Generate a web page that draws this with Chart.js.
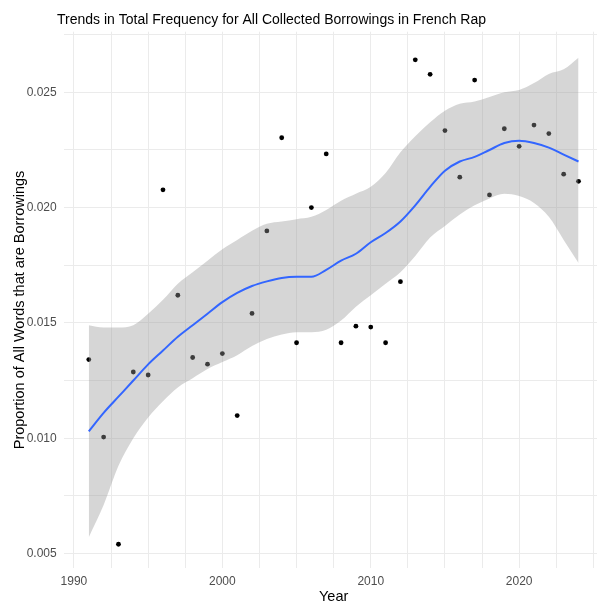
<!DOCTYPE html>
<html>
<head>
<meta charset="utf-8">
<script src="https://cdn.jsdelivr.net/npm/chart.js@4.4.0/dist/chart.umd.min.js"></script>
<style>
html,body{margin:0;padding:0;background:#fff;overflow:hidden}
#wrap{width:597px;height:606px;overflow:hidden;position:relative}
canvas{display:block}
</style>
</head>
<body>
<div id="wrap"><canvas id="c" width="607" height="606" style="width:607px;height:606px"></canvas></div>
<script>
// ---- data ----
const years = [1991,1992,1993,1994,1995,1996,1997,1998,1999,2000,2001,2002,2003,2004,2005,2006,2007,2008,2009,2010,2011,2012,2013,2014,2015,2016,2017,2018,2019,2020,2021,2022,2023,2024];
const proportions = [0.01341,0.01005,0.00540,0.01287,0.01274,0.02077,0.01620,0.01350,0.01321,0.01367,0.01098,0.01541,0.01899,0.02303,0.01414,0.02000,0.02233,0.01414,0.01486,0.01482,0.01414,0.01679,0.02641,0.02578,0.02334,0.02132,0.02553,0.02055,0.02342,0.02266,0.02358,0.02321,0.02145,0.02114];

const smoothYears = years;
const smoothFit   = [0.01030,0.01110,0.01180,0.01250,0.01320,0.01380,0.01440,0.01490,0.01540,0.01590,0.01630,0.01660,0.01680,0.01695,0.01700,0.01700,0.01730,0.01770,0.01800,0.01850,0.01890,0.01940,0.02010,0.02090,0.02160,0.02200,0.02220,0.02250,0.02280,0.02290,0.02280,0.02260,0.02230,0.02200];
const smoothLower = [0.00570,0.00710,0.00880,0.01000,0.01090,0.01160,0.01220,0.01260,0.01300,0.01330,0.01360,0.01400,0.01430,0.01450,0.01460,0.01460,0.01470,0.01510,0.01570,0.01620,0.01670,0.01720,0.01790,0.01870,0.01920,0.01970,0.02010,0.02040,0.02060,0.02050,0.02020,0.01960,0.01860,0.01760];
const smoothUpper = [0.01490,0.01480,0.01480,0.01490,0.01540,0.01600,0.01670,0.01720,0.01770,0.01820,0.01860,0.01900,0.01930,0.01940,0.01950,0.01960,0.01990,0.02030,0.02060,0.02090,0.02150,0.02240,0.02310,0.02370,0.02420,0.02450,0.02460,0.02480,0.02500,0.02510,0.02540,0.02580,0.02600,0.02650];

const xTickValues = [1990,1992.5,1995,1997.5,2000,2002.5,2005,2007.5,2010,2012.5,2015,2017.5,2020,2022.5,2025];
const xTickLabels = [1990,2000,2010,2020];
const yTickValues = [0.005,0.0075,0.01,0.0125,0.015,0.0175,0.02,0.0225,0.025,0.0275];
const yTickLabels = [0.005,0.010,0.015,0.020,0.025];

const titleText = "Trends in Total Frequency for All Collected Borrowings in French Rap";
const xTitle = "Year";
const yTitle = "Proportion of All Words that are Borrowings";

const FONT = '"Liberation Sans", Arial, Helvetica, sans-serif';

const pts = (xs, ys) => xs.map((x, i) => ({x: x, y: ys[i]}));
const isIn = (arr, v) => arr.some(a => Math.abs(a - v) < 1e-9);

const titlesPlugin = {
  id: 'titles',
  afterDraw(chart) {
    const ctx = chart.ctx;
    const ca = chart.chartArea;
    ctx.save();
    ctx.fillStyle = '#000';
    ctx.font = '14px ' + FONT;
    ctx.textAlign = 'left';
    ctx.textBaseline = 'alphabetic';
    ctx.fillText(titleText, 57, 24);
    ctx.font = '14.5px ' + FONT;
    ctx.textAlign = 'center';
    ctx.fillText(xTitle, (ca.left + ca.right) / 2, 601);
    ctx.translate(24, 310);
    ctx.rotate(-Math.PI / 2);
    ctx.fillText(yTitle, 0, 0);
    ctx.restore();
  }
};

new Chart(document.getElementById('c'), {
  data: {
    datasets: [
      {
        type: 'line',
        data: pts(smoothYears, smoothFit),
        borderColor: '#3366FF',
        borderWidth: 2,
        pointRadius: 0,
        fill: false,
        cubicInterpolationMode: 'monotone',
        order: 0
      },
      {
        type: 'line',
        data: pts(smoothYears, smoothLower),
        borderWidth: 0,
        borderColor: 'rgba(0,0,0,0)',
        pointRadius: 0,
        fill: false,
        cubicInterpolationMode: 'monotone',
        order: 1
      },
      {
        type: 'line',
        data: pts(smoothYears, smoothUpper),
        borderWidth: 0,
        borderColor: 'rgba(0,0,0,0)',
        backgroundColor: 'rgba(153,153,153,0.4)',
        pointRadius: 0,
        fill: {target: 1},
        cubicInterpolationMode: 'monotone',
        order: 1
      },
      {
        type: 'scatter',
        data: pts(years, proportions),
        backgroundColor: '#000',
        borderWidth: 0,
        pointRadius: 2.4,
        order: 2
      }
    ]
  },
  options: {
    responsive: false,
    animation: false,
    events: [],
    layout: {padding: {top: 31.7, left: 0, right: 1, bottom: 0}},
    plugins: {legend: {display: false}, tooltip: {enabled: false}, title: {display: false}},
    scales: {
      x: {
        type: 'linear',
        min: 1989.35,
        max: 2025.65,
        afterBuildTicks(scale) { scale.ticks = xTickValues.map(v => ({value: v})); },
        afterFit(scale) { scale.height = 38; },
        grid: {color: '#EBEBEB', lineWidth: 1, drawTicks: false},
        border: {display: false},
        ticks: {
          padding: 6.5,
          color: '#4D4D4D',
          font: {family: FONT, size: 12},
          maxRotation: 0,
          autoSkip: false,
          callback: v => isIn(xTickLabels, v) ? String(v) : ''
        }
      },
      y: {
        type: 'linear',
        min: 0.00437,
        max: 0.02763,
        afterBuildTicks(scale) { scale.ticks = yTickValues.map(v => ({value: v})); },
        afterFit(scale) { scale.width = 64.3; },
        grid: {color: '#EBEBEB', lineWidth: 1, drawTicks: false},
        border: {display: false},
        ticks: {
          padding: 7.6,
          color: '#4D4D4D',
          font: {family: FONT, size: 12},
          autoSkip: false,
          callback: v => isIn(yTickLabels, v) ? v.toFixed(3) : ''
        }
      }
    }
  },
  plugins: [titlesPlugin]
});
</script>
</body>
</html>
